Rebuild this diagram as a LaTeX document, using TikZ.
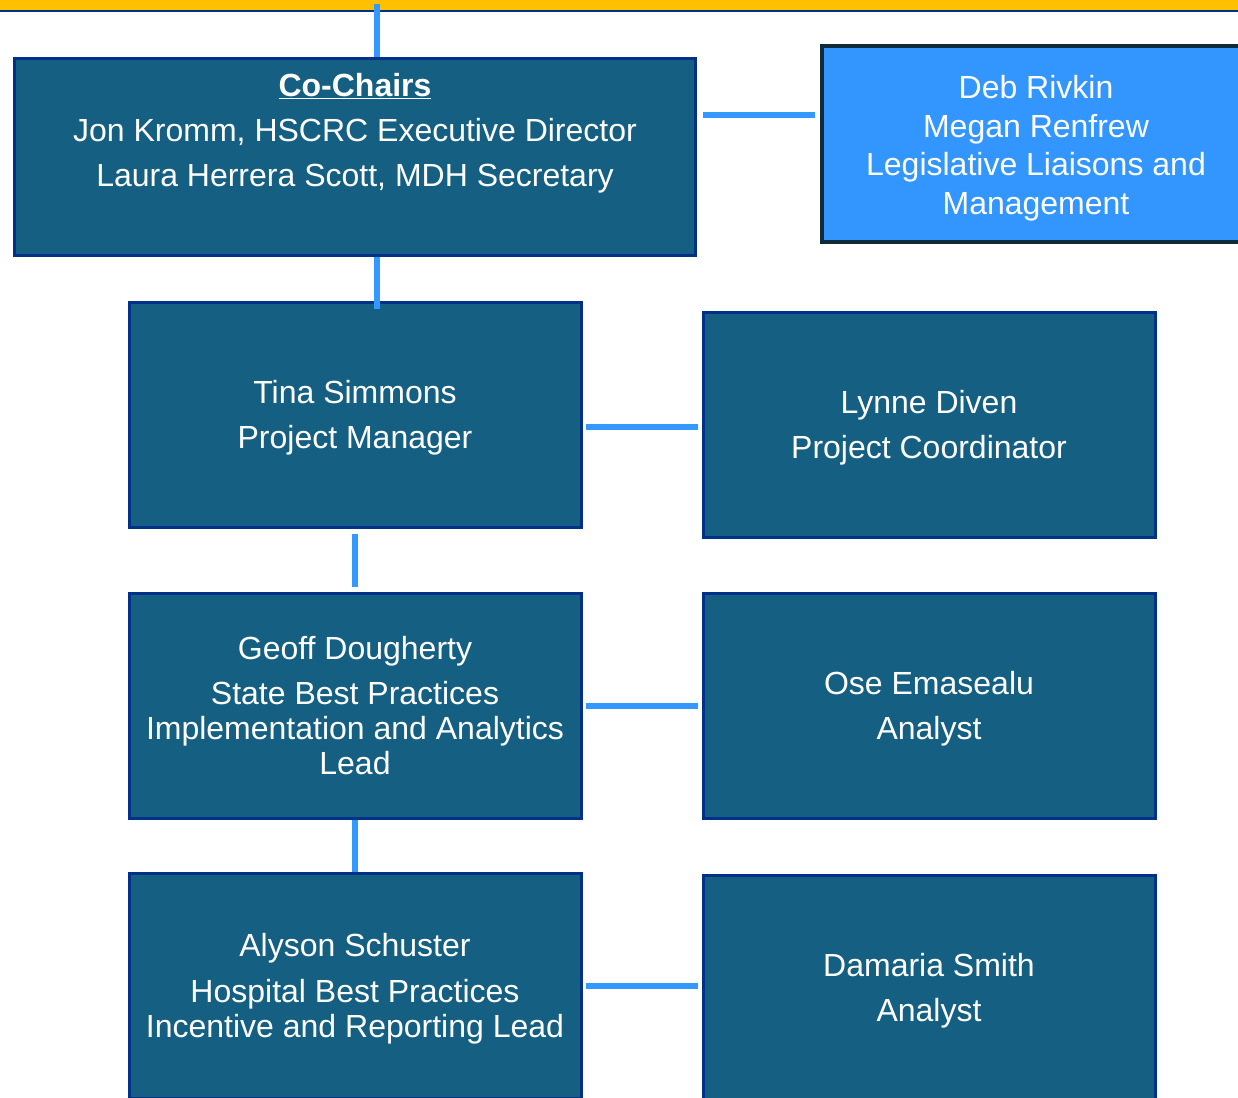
\documentclass[tikz,border=0pt]{standalone}
\usepackage{fontspec}
\setmainfont{Liberation Sans}
\usetikzlibrary{positioning}
\definecolor{bandyellow}{HTML}{FFC000}
\definecolor{bandnavy}{HTML}{003087}
\definecolor{boxteal}{HTML}{156082}
\definecolor{boxedge}{HTML}{003087}
\definecolor{liaisonblue}{HTML}{3396FF}
\definecolor{liaisonedge}{HTML}{0F2A3A}
\definecolor{linkblue}{HTML}{3399FF}
\tikzset{
    x=1pt, y=-1pt,
    node distance=44pt, % gap between the boxes
    rolebox/.style={rectangle, draw=boxedge, line width=3pt, fill=boxteal, text=white, align=center,
        minimum width=452pt, minimum height=225pt, font=\fontsize{32}{35}\selectfont},
    chairbox/.style={rolebox, minimum width=681pt, minimum height=197pt},
    liaisonbox/.style={rolebox, draw=liaisonedge, line width=4pt, fill=liaisonblue,
        minimum width=428pt, minimum height=196pt, font=\fontsize{32}{38.5}\selectfont},
    link/.style={draw=linkblue, line width=6pt},
    }
\begin{document}
\begin{tikzpicture}
\useasboundingbox (0,0) rectangle (1238,1097);
% top band
\fill[bandyellow] (0,0) rectangle (1238,10);
\draw[bandnavy, line width=2pt] (0,11) -- (1238,11);
\coordinate (top) at (377,4);

\node[chairbox] (chairs) at (355,157) {\underline{\textbf{Co-Chairs}}\\[10pt]Jon Kromm, HSCRC Executive Director\\[10pt]Laura Herrera Scott, MDH Secretary\\[20pt]};
\node[liaisonbox, right=123pt of chairs, yshift=13pt] (deb) {Deb Rivkin\\Megan Renfrew\\Legislative Liaisons and\\Management\\[-40pt]};
\node[rolebox, below=44pt of chairs] (tina) {Tina Simmons\\[10pt]Project Manager\\[-33pt]};
\node[rolebox, right=119pt of tina, yshift=-10pt] (lynne) {Lynne Diven\\[10pt]Project Coordinator\\[-33pt]};
\node[rolebox, below=63pt of tina] (geoff) {Geoff Dougherty\\[10pt]State Best Practices\\Implementation and Analytics\\Lead};
\node[rolebox, right=119pt of geoff] (ose) {Ose Emasealu\\[10pt]Analyst\\[-33pt]};
\node[rolebox, below=52pt of geoff] (alyson) {Alyson Schuster\\[11pt]Hospital Best Practices\\Incentive and Reporting Lead\\[-33pt]};
\node[rolebox, right=119pt of alyson, yshift=-2pt] (damaria) {Damaria Smith\\[10pt]Analyst\\[-33pt]};

\draw[link] (top) -- (top |- chairs.north);
\draw[link] ([xshift=6pt, yshift=42pt]chairs.east) -- ([xshift=-5pt, yshift=29pt]deb.west);
\draw[link] ([xshift=22pt]chairs.south) -- ([xshift=22pt, yshift=-8pt]tina.north);
\draw[link] ([xshift=3pt, yshift=-12pt]tina.east) -- ([xshift=-4pt, yshift=-12pt]tina.east -| lynne.west);
\draw[link] ([yshift=-5pt]tina.south) -- ([yshift=5pt]geoff.north);
\draw[link] ([xshift=3pt]geoff.east) -- ([xshift=-4pt]ose.west);
\draw[link] (geoff.south) -- (alyson.north);
\draw[link] ([xshift=3pt]alyson.east) -- ([xshift=-4pt]alyson.east -| damaria.west);
\end{tikzpicture}
\end{document}
